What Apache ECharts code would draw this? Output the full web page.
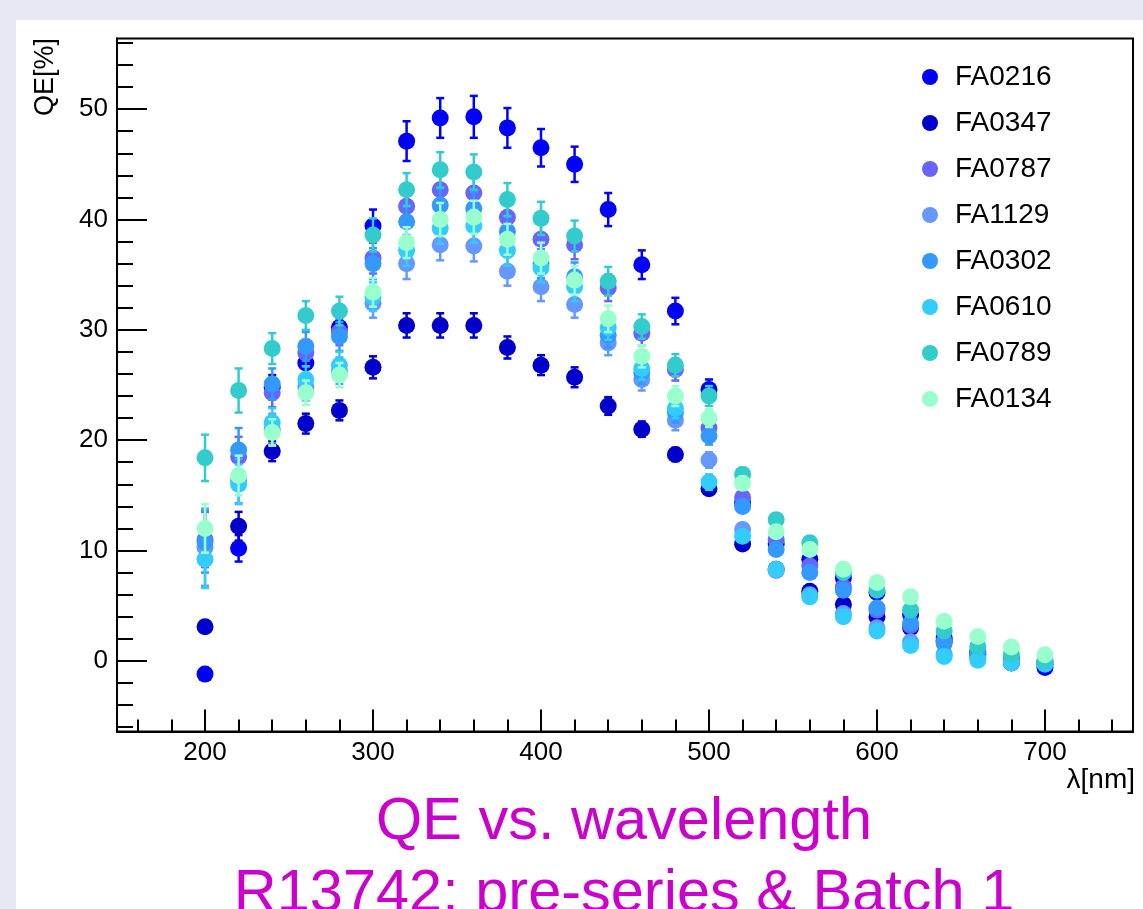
<!DOCTYPE html>
<html>
<head>
<meta charset="utf-8">
<script src="https://cdn.jsdelivr.net/npm/echarts@6/dist/echarts.min.js"></script>
<style>
  html, body { margin: 0; padding: 0; background: #e8e8f4; }
  #panel { position: absolute; left: 16px; top: 20px; width: 1127px; height: 889px; background: #ffffff; }
  #chart { position: absolute; left: 0; top: 0; width: 1143px; height: 909px; }
</style>
</head>
<body>
<div id="panel"></div>
<div id="chart"></div>
<script>
// ---------- data ----------
const wavelengths = [200,220,240,260,280,300,320,340,360,380,400,420,440,460,480,500,520,540,560,580,600,620,640,660,680,700];

const seriesNames  = ['FA0216','FA0347','FA0787','FA1129','FA0302','FA0610','FA0789','FA0134'];
const seriesColors = ['#0000ff','#0000cc','#6666ff','#6699ff','#3399ff','#33ccff','#33cccc','#99ffcc'];

const qeFA0216 = [-1.2,10.2,24.8,27.0,30.2,39.4,47.1,49.2,49.3,48.3,46.5,45.0,40.9,35.9,31.7,24.6,14.3,10.6,9.2,7.5,6.2,4.2,2.1,0.8,0.0,-0.6];
const qeFA0347 = [3.1,12.2,19.0,21.5,22.7,26.6,30.4,30.4,30.4,28.4,26.8,25.7,23.1,21.0,18.7,15.6,10.6,8.3,6.3,5.1,4.0,3.0,1.8,0.6,-0.2,-0.3];
const qeFA0787 = [11.0,18.5,24.3,27.9,29.8,36.5,41.2,42.7,42.4,40.2,38.2,37.7,33.8,29.7,26.4,21.1,14.8,11.0,8.6,6.7,4.6,3.2,1.8,0.8,0.3,-0.1];
const qeFA1129 = [10.3,16.3,21.0,24.8,26.3,32.4,36.0,37.7,37.6,35.3,33.9,32.3,28.8,25.5,21.8,18.2,11.9,8.2,6.0,4.3,3.0,1.7,0.6,0.3,0.0,-0.2];
const qeFA0302 = [10.8,19.1,25.1,28.5,29.4,36.0,39.8,41.3,41.0,38.9,36.0,34.8,29.5,26.1,22.5,20.4,14.0,10.1,8.0,6.4,4.8,3.4,1.6,0.6,0.2,0.0];
const qeFA0610 = [9.2,16.0,21.6,25.5,26.8,33.0,37.2,39.2,39.4,37.2,35.6,33.9,30.2,26.5,22.9,16.2,11.3,8.3,5.8,4.0,2.7,1.4,0.4,0.05,-0.2,-0.3];
const qeFA0789 = [18.4,24.5,28.3,31.3,31.7,38.6,42.7,44.5,44.3,41.8,40.1,38.5,34.4,30.3,26.8,24.0,16.9,12.8,10.7,8.0,6.4,4.6,2.7,1.3,0.6,0.0];
const qeFA0134 = [12.0,16.8,20.7,24.3,25.9,33.4,37.9,40.0,40.2,38.2,36.5,34.5,31.0,27.6,24.0,22.0,16.1,11.7,10.1,8.3,7.1,5.8,3.6,2.2,1.26,0.56];

const errFA0216 = [0.3,1.2,1.1,1.1,1.2,1.5,1.8,1.8,1.9,1.8,1.7,1.6,1.5,1.3,1.2,0.9,0.5,0.4,0.35,0.3,0.25,0.2,0.15,0.1,0.1,0.1];
const errFA0347 = [0.3,1.3,0.9,0.9,0.9,1.0,1.1,1.1,1.1,1.0,0.9,0.9,0.8,0.7,0.6,0.5,0.4,0.3,0.25,0.2,0.2,0.15,0.1,0.1,0.1,0.1];
const errFA0787 = [2.5,1.8,1.3,1.2,1.2,1.4,1.5,1.5,1.5,1.4,1.4,1.3,1.2,1.1,1.0,0.8,0.55,0.4,0.3,0.25,0.2,0.15,0.1,0.1,0.1,0.1];
const errFA1129 = [3.5,2.0,1.4,1.2,1.2,1.3,1.4,1.4,1.4,1.3,1.3,1.2,1.1,1.0,0.9,0.7,0.5,0.35,0.3,0.25,0.2,0.15,0.1,0.1,0.1,0.1];
const errFA0302 = [2.8,2.0,1.4,1.3,1.3,1.4,1.5,1.5,1.5,1.4,1.3,1.3,1.1,1.0,0.9,0.8,0.55,0.4,0.3,0.25,0.2,0.15,0.1,0.1,0.1,0.1];
const errFA0610 = [2.6,1.8,1.3,1.2,1.2,1.3,1.4,1.4,1.5,1.4,1.3,1.3,1.1,1.0,0.9,0.7,0.5,0.35,0.3,0.2,0.15,0.1,0.1,0.1,0.1,0.1];
const errFA0789 = [2.1,2.0,1.4,1.3,1.3,1.5,1.5,1.6,1.6,1.5,1.5,1.4,1.3,1.1,1.0,0.9,0.6,0.45,0.35,0.3,0.25,0.2,0.15,0.1,0.1,0.1];
const errFA0134 = [2.2,1.8,1.2,1.1,1.1,1.3,1.4,1.5,1.5,1.4,1.4,1.3,1.2,1.0,0.9,0.8,0.6,0.45,0.35,0.3,0.25,0.2,0.15,0.1,0.1,0.1];

const qeValues  = [qeFA0216, qeFA0347, qeFA0787, qeFA1129, qeFA0302, qeFA0610, qeFA0789, qeFA0134];
const errValues = [errFA0216, errFA0347, errFA0787, errFA1129, errFA0302, errFA0610, errFA0789, errFA0134];

const xMajorTicks = [200,300,400,500,600,700];
const xMinorTicks = [160,180,220,240,260,280,320,340,360,380,420,440,460,480,520,540,560,580,620,640,660,680,720,740];
const yMajorTicks = [0,10,20,30,40,50];
const yMinorTicks = [-6,-4,-2,2,4,6,8,12,14,16,18,22,24,26,28,32,34,36,38,42,44,46,48,52,54,56];

const xTitle = 'λ[nm]';
const yTitle = 'QE[%]';
const titleLine1 = 'QE vs. wavelength';
const titleLine2 = 'R13742: pre-series & Batch 1';

// ---------- chart ----------
const FONT = 'Liberation Sans, Arial, Helvetica, sans-serif';
const X_MIN = 147.6, X_MAX = 752.4, Y_MIN = -6.4, Y_MAX = 56.4;

const chart = echarts.init(document.getElementById('chart'), null, { renderer: 'canvas' });

const series = [];
seriesNames.forEach((name, i) => {
  const pts = wavelengths.map((w, k) => [w, qeValues[i][k], errValues[i][k]]);
  series.push({
    type: 'custom',
    name: name + ' err',
    z: 10 + 2 * i,
    xAxisIndex: 0, yAxisIndex: 0,
    data: pts,
    silent: true,
    renderItem: function (params, api) {
      const x = api.value(0), y = api.value(1), e = api.value(2);
      const top = api.coord([x, y + e]);
      const bot = api.coord([x, y - e]);
      const cw = 4;
      const st = { stroke: seriesColors[i], lineWidth: 2.5 };
      return {
        type: 'group',
        children: [
          { type: 'line', shape: { x1: top[0], y1: top[1], x2: bot[0], y2: bot[1] }, style: st },
          { type: 'line', shape: { x1: top[0] - cw, y1: top[1], x2: top[0] + cw, y2: top[1] }, style: st },
          { type: 'line', shape: { x1: bot[0] - cw, y1: bot[1], x2: bot[0] + cw, y2: bot[1] }, style: st }
        ]
      };
    }
  });
  series.push({
    type: 'scatter',
    name: name,
    z: 11 + 2 * i,
    xAxisIndex: 0, yAxisIndex: 0,
    symbol: 'circle',
    symbolSize: 17,
    itemStyle: { color: seriesColors[i], opacity: 1 },
    emphasis: { disabled: true },
    data: pts.map(p => [p[0], p[1]])
  });
});

const baseAxisX = {
  type: 'value', min: X_MIN, max: X_MAX, position: 'bottom',
  splitLine: { show: false }
};
const baseAxisY = {
  type: 'value', min: Y_MIN, max: Y_MAX, position: 'left',
  splitLine: { show: false }
};

const option = {
  animation: false,
  backgroundColor: 'transparent',
  grid: {
    left: 117, top: 38.5, width: 1016, height: 693,
    show: true, borderColor: '#000', borderWidth: 2, backgroundColor: 'transparent'
  },
  legend: {
    data: seriesNames,
    orient: 'vertical',
    left: 917, top: 57,
    icon: 'circle',
    itemWidth: 16, itemHeight: 16,
    itemGap: 16,
    selectedMode: false,
    textStyle: { fontFamily: FONT, fontSize: 28, color: '#000', lineHeight: 30, padding: [0, 0, 0, 12] }
  },
  xAxis: [
    Object.assign({}, baseAxisX, {
      axisLine: { show: true, onZero: false, lineStyle: { color: '#000', width: 2 } },
      axisTick: { show: true, inside: true, length: 22, customValues: xMajorTicks, lineStyle: { color: '#000', width: 2 } },
      axisLabel: { show: true, customValues: xMajorTicks, fontFamily: FONT, fontSize: 26, color: '#000', margin: 8 }
    }),
    Object.assign({}, baseAxisX, {
      axisLine: { show: false, onZero: false },
      axisTick: { show: true, inside: true, length: 12, customValues: xMinorTicks, lineStyle: { color: '#000', width: 2 } },
      axisLabel: { show: false }
    })
  ],
  yAxis: [
    Object.assign({}, baseAxisY, {
      axisLine: { show: true, onZero: false, lineStyle: { color: '#000', width: 2 } },
      axisTick: { show: true, inside: true, length: 30, customValues: yMajorTicks, lineStyle: { color: '#000', width: 2 } },
      axisLabel: { show: true, customValues: yMajorTicks, fontFamily: FONT, fontSize: 26, color: '#000', margin: 9 }
    }),
    Object.assign({}, baseAxisY, {
      axisLine: { show: false, onZero: false },
      axisTick: { show: true, inside: true, length: 16, customValues: yMinorTicks, lineStyle: { color: '#000', width: 2 } },
      axisLabel: { show: false }
    })
  ],
  graphic: [
    { type: 'text', x: 46, y: 38, rotation: Math.PI / 2,
      style: { text: yTitle, fontFamily: FONT, fontSize: 27, fill: '#000', align: 'right', verticalAlign: 'middle' } },
    { type: 'text', x: 1135, y: 780,
      style: { text: xTitle, fontFamily: FONT, fontSize: 28, fill: '#000', align: 'right', verticalAlign: 'middle' } },
    { type: 'text', x: 624, y: 823,
      style: { text: titleLine1, fontFamily: FONT, fontSize: 59.5, fill: '#cc00cc', align: 'center', verticalAlign: 'middle' } },
    { type: 'text', x: 624, y: 895,
      style: { text: titleLine2, fontFamily: FONT, fontSize: 59.5, fill: '#cc00cc', align: 'center', verticalAlign: 'middle' } }
  ],
  series: series
};

chart.setOption(option);
</script>
</body>
</html>
